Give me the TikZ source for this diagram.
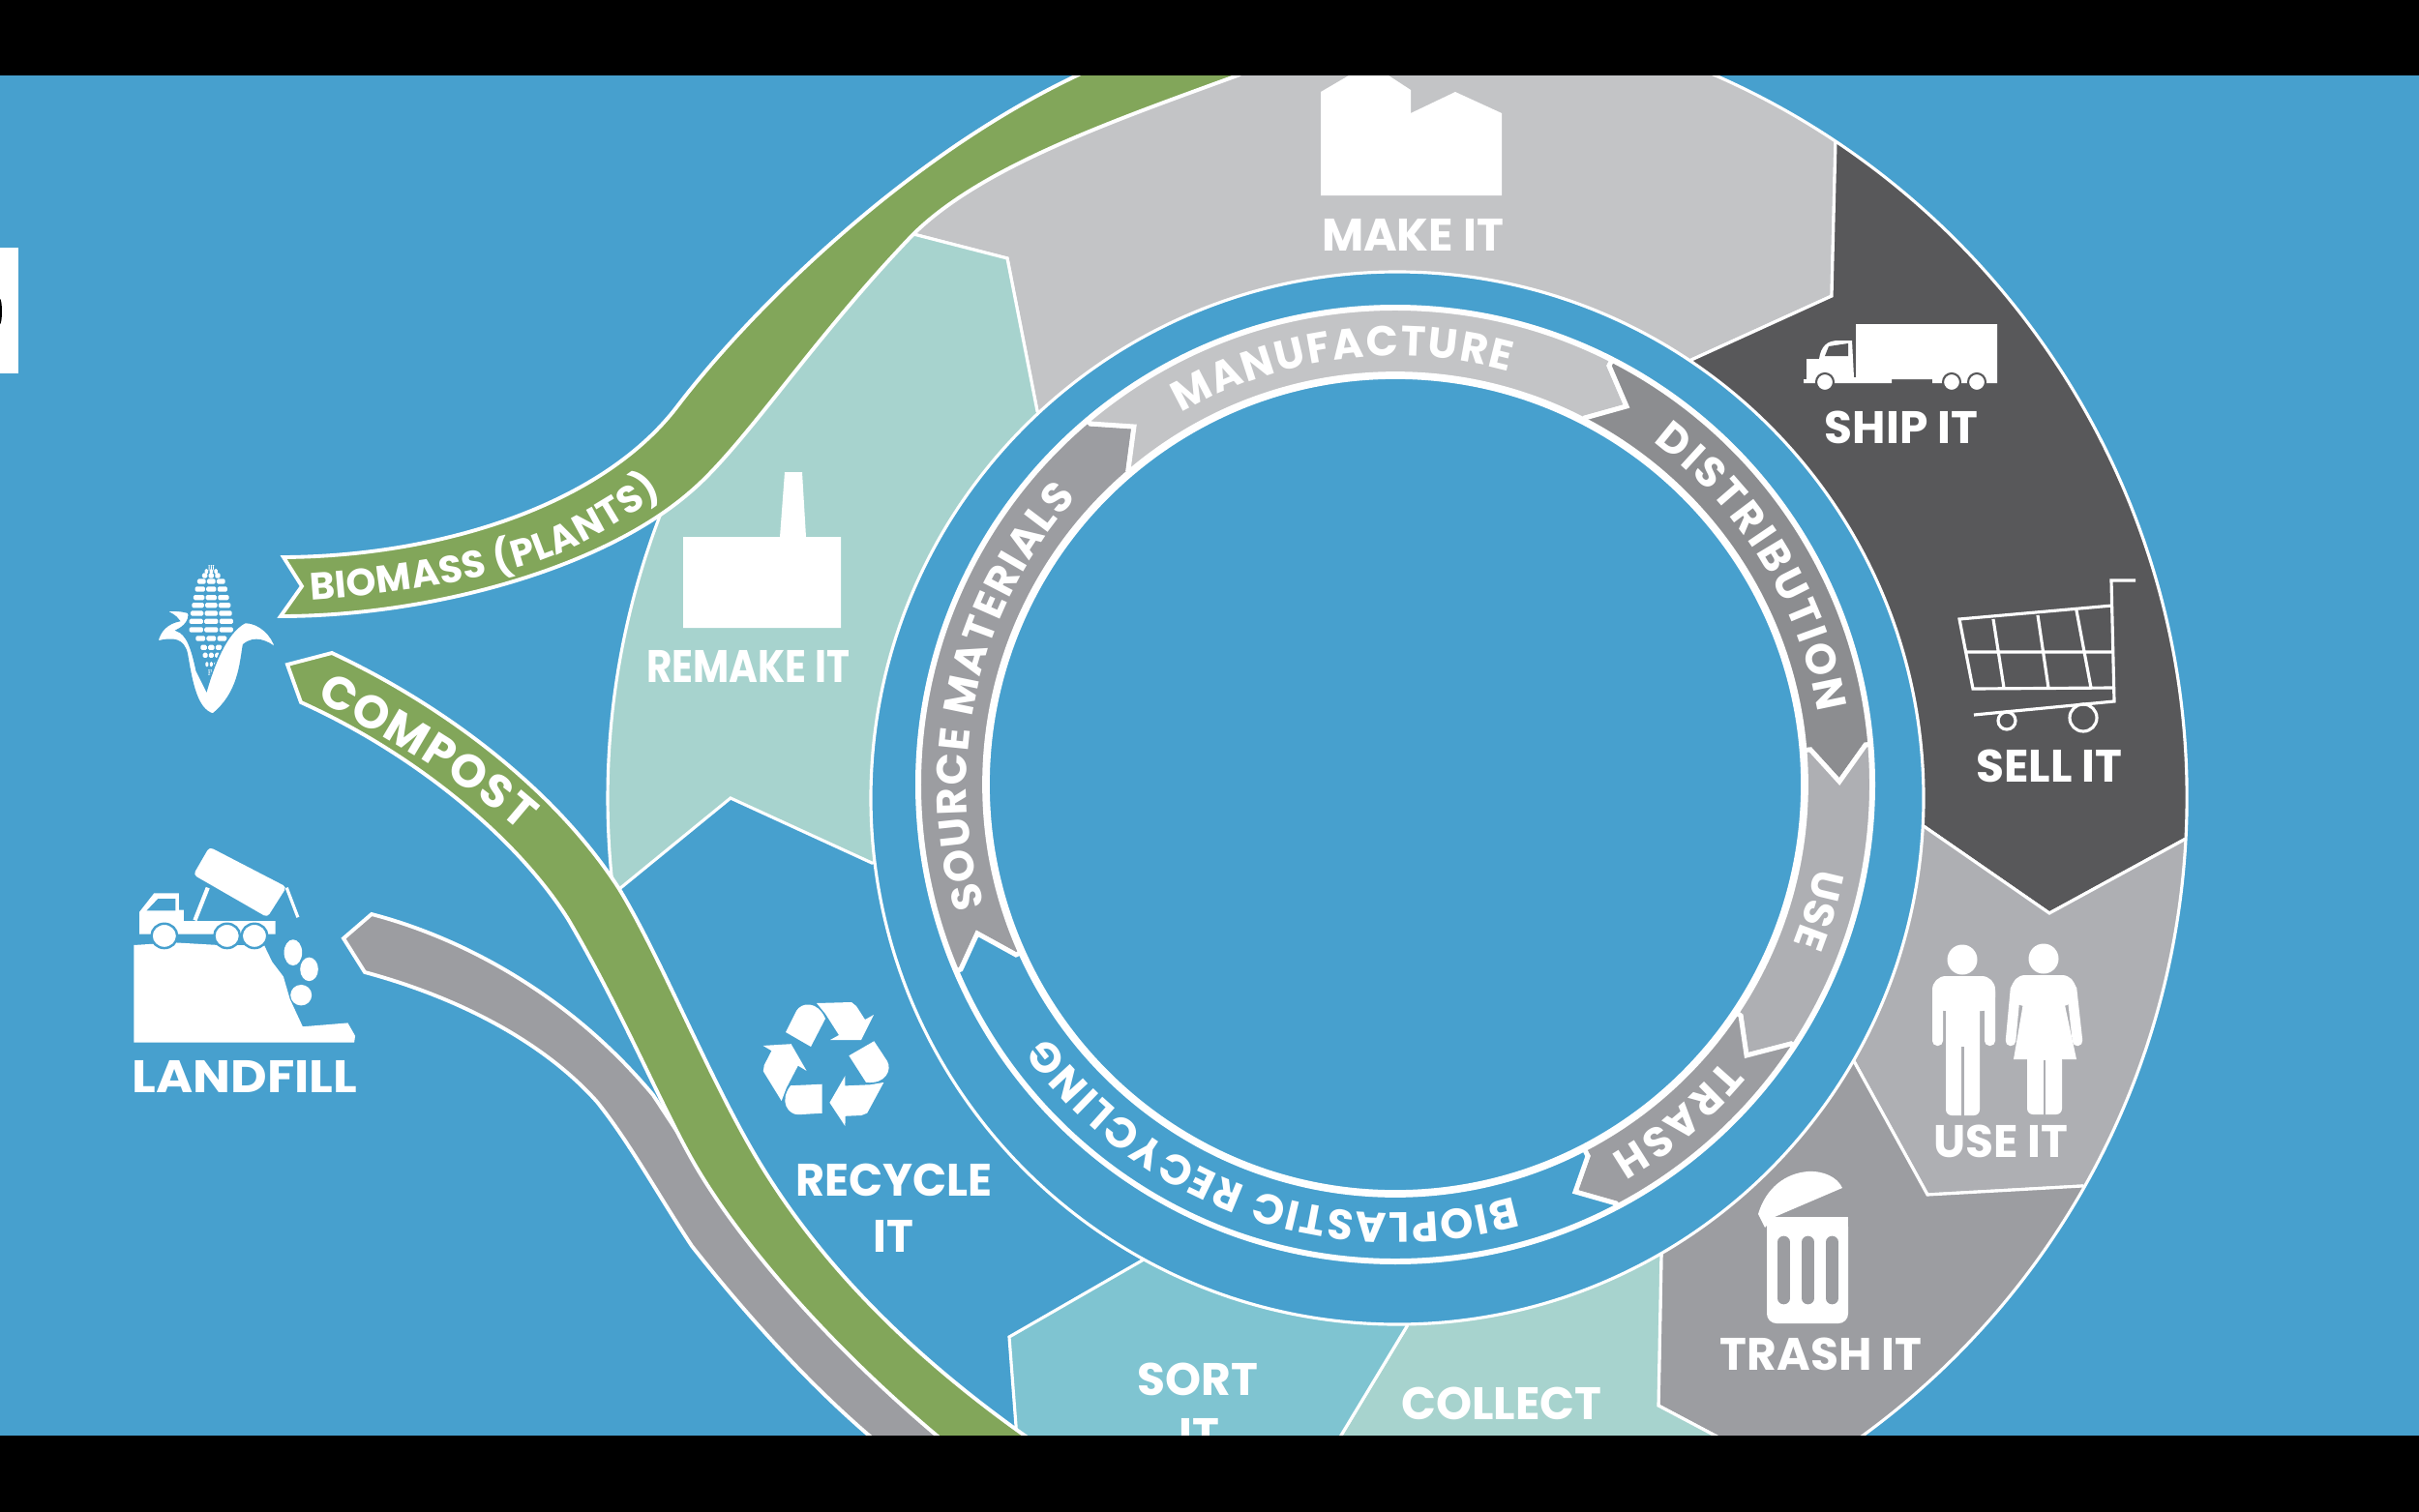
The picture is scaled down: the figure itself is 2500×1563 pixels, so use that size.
\documentclass[tikz,border=0pt]{standalone}
\usepackage{fontspec}
\setmainfont{Poppins}
\usetikzlibrary{calc,decorations.text}
\definecolor{bgblue}{HTML}{47A0CE}
\definecolor{makegrey}{HTML}{C3C4C6}
\definecolor{shipdark}{HTML}{58585A}
\definecolor{usegrey}{HTML}{AEAFB3}
\definecolor{trashgrey}{HTML}{9C9DA1}
\definecolor{remakemint}{HTML}{A7D3CE}
\definecolor{sortcyan}{HTML}{7FC4D1}
\definecolor{biogreen}{HTML}{82A65A}
\definecolor{distgrey}{HTML}{8C8D90}
\tikzset{
  seg/.style={draw=white,line width=.9pt,line join=miter},
  ring part/.style={draw=white,line width=1.4pt,line join=miter},
  flow band/.style={draw=white,line width=1.1pt,line join=miter},
  step label/.style={text=white,font=\bfseries\fontsize{13.4}{16}\selectfont,inner sep=0pt,align=center},
  icon/.style={fill=white,draw=none}
}
\newcommand{\ringfont}{\color{white}\bfseries\fontsize{12.4}{13}\selectfont}
\newcommand{\bandfont}{\color{white}\bfseries\fontsize{11.2}{12}\selectfont}
\newcommand{\compfont}{\color{white}\bfseries\fontsize{13.6}{14}\selectfont}
\newcommand{\RingPart}[5]{\filldraw[ring part,fill=#1] (#2o)--(#2t)--(#2i)--(rc)--(#3i)--(#3t)--(#3o)
  --($(rc)+(#5:700)$)--($(rc)+({(#4+#5)/2}:1000)$)--($(rc)+(#4:700)$)--cycle;}
\newcommand{\RingLabel}[3]{\path[decorate,decoration={text along path,text align={fit to path},text={|\ringfont|#3}}]
  (rc)+(#1:443) arc[start angle=#1,end angle=#2,radius=443];}

\begin{document}
\begin{tikzpicture}[x=0.1mm,y=-0.1mm,line cap=butt]
  \useasboundingbox (0,0) rectangle (2500,1563);
  \fill[bgblue] (0,0) rectangle (2500,1563);
  \coordinate (oc) at (1444,825);
  \coordinate (rc) at (1442,811);

  \fill[white] (0,256) rectangle (19,386);
  \fill[black] (0,322) ellipse (2 and 13);

  % landfill band sits under the compost band
  \filldraw[flow band,fill=trashgrey] (384,945) .. controls (480,970) and (590,1030) .. (675,1132) -- (700,1170) -- (1000,1500) -- (930,1510)
    .. controls (840,1440) and (760,1345) .. (715,1288) .. controls (680,1235) and (650,1180) .. (617,1139)
    .. controls (560,1075) and (470,1030) .. (377,1005) -- (355,970) -- cycle;

  % outer steps
  \begin{scope}
    \clip (oc) circle (816);
    \filldraw[seg,fill=makegrey] (oc)--(1072,425)--(1041,267)--(944,242)--($(oc)+(229.4:1100)$)--($(oc)+(270:1200)$)--($(oc)+(303.7:1100)$)--(1897,145)--(1893,306)--(1748,372)--cycle;
    \filldraw[seg,fill=shipdark] (oc)--(1748,372)--(1893,306)--(1897,145)--($(oc)+(303.7:1100)$)--($(oc)+(333:1200)$)--($(oc)+(3:1100)$)--(2259,867)--(2118,944)--(1988,854)--cycle;
    \filldraw[seg,fill=usegrey] (oc)--(1988,854)--(2118,944)--(2259,867)--($(oc)+(3:1100)$)--($(oc)+(16:1200)$)--($(oc)+(29.5:1100)$)--(2152,1226)--(1992,1235)--(1916,1097)--cycle;
    \filldraw[seg,fill=trashgrey] (oc)--(1916,1097)--(1992,1235)--(2152,1226)--($(oc)+(29.5:1100)$)--($(oc)+(50:1200)$)--(1850,1525)--(1714,1453)--(1717,1294)--cycle;
    \filldraw[seg,fill=remakemint] (oc)--(1717,1294)--(1714,1453)--(1850,1525)--(1600,1700)--(1340,1560)--(1454,1371)--cycle;
    \filldraw[seg,fill=sortcyan] (oc)--(1454,1371)--(1340,1560)--(1056,1560)--(1050,1474)--(1043,1382)--(1182,1302)--cycle;
    \filldraw[seg,fill=remakemint] (oc)--(901,892)--(755,825)--(640,919)--($(oc)+(173.3:1100)$)--($(oc)+(200:1200)$)--($(oc)+(229.4:1100)$)--(944,242)--(1041,267)--(1072,425)--cycle;
  \end{scope}
  \draw[seg] (oc)+(280:816) arc[start angle=280,end angle=430,radius=816];
  \draw[seg] (oc)+(173.3:816) arc[start angle=173.3,end angle=206.6,radius=816];

  % blue gap
  \filldraw[seg,fill=bgblue] (oc) circle (544);

  % inner ring
  \coordinate (so) at (993,1002); \coordinate (st) at (1010,965); \coordinate (si) at (1050,987);
  \coordinate (mo) at (1127,438); \coordinate (mt) at (1172,441); \coordinate (mi) at (1166,486);
  \coordinate (do) at (1663,378); \coordinate (dt) at (1681,420); \coordinate (di) at (1638,432);
  \coordinate (uo) at (1928,770); \coordinate (ut) at (1901,808); \coordinate (ui) at (1871,775);
  \coordinate (to) at (1851,1079); \coordinate (tt) at (1805,1091); \coordinate (ti) at (1799,1050);
  \coordinate (bo) at (1670,1244); \coordinate (bt) at (1628,1232); \coordinate (bi) at (1641,1195);
  \begin{scope}
    \clip (rc) circle (493);
    \RingPart{trashgrey}{s}{m}{157}{229.8}
    \RingPart{makegrey}{m}{d}{229.8}{297}
    \RingPart{distgrey}{d}{u}{297}{355.2}
    \RingPart{usegrey}{u}{t}{355.2}{393.2}
    \RingPart{trashgrey}{t}{b}{393.2}{422.2}
    \RingPart{bgblue}{b}{s}{422.2}{517}
  \end{scope}
  \draw[white,line width=1.7pt] (rc) circle (493);
  \filldraw[draw=white,line width=2.2pt,fill=bgblue] (rc) circle (423);
  \RingLabel{240}{285.4}{MANUFACTURE}
  \RingLabel{307}{350.4}{DISTRIBUTION}
  \RingLabel{11.3}{21.7}{USE}
  \RingLabel{40}{59.8}{TRASH}
  \RingLabel{74}{144}{BIOPLASTIC RECYCLING}
  \RingLabel{163.5}{222}{SOURCE MATERIALS}

  % green bands
  \filldraw[flow band,fill=biogreen] (293,576) .. controls (450,575) and (620,525) .. (700,420) .. controls (780,315) and (940,160) .. (1113,78) -- (1180,45) -- (1340,45) -- (1279,78)
    .. controls (1150,125) and (1015,172) .. (944,242) .. controls (840,350) and (770,460) .. (714,508) .. controls (620,590) and (440,637) .. (290,637)
    -- (312,606) -- cycle;
  \filldraw[flow band,fill=biogreen] (343,675) .. controls (450,725) and (570,810) .. (640,919) .. controls (680,985) and (725,1095) .. (770,1176) .. controls (830,1285) and (930,1400) .. (1100,1512)
    -- (1010,1520) -- (1000,1510) .. controls (880,1415) and (765,1290) .. (712,1193) .. controls (680,1135) and (640,1040) .. (587,950) .. controls (530,860) and (420,775) .. (311,726)
    -- (297,687) -- cycle;
  \path[decorate,decoration={text along path,text align={fit to path},text={|\bandfont|BIOMASS (PLANTS)}}]
    (321,620) .. controls (400,615) and (500,600) .. (561,579) .. controls (600,565) and (650,535) .. (684,510);
  \path[decorate,decoration={text along path,text align={fit to path},text={|\compfont|COMPOST}}]
    (327,722) .. controls (400,765) and (470,800) .. (538,860);

  % step labels
  \node[step label] (makeit) at (1460,243) {MAKE IT};
  \node[step label] (shipit) at (1965,442) {SHIP IT};
  \node[step label] (sellit) at (2118,792) {SELL IT};
  \node[step label] (useit) at (2068,1180) {USE IT};
  \node[step label] (trashit) at (1882,1400) {TRASH IT};
  \node[step label] (collect) at (1552,1451) {COLLECT};
  \node[step label] (sort) at (1238,1426) {SORT};
  \node[step label] (sortb) at (1239,1483) {IT};
  \node[step label] (recycle) at (924,1220) {\scalebox{.98}[1]{RECYCLE}};
  \node[step label] (recycleb) at (923,1278) {IT};
  \node[step label] (remake) at (773,689) {\scalebox{.86}[1]{REMAKE IT}};
  \node[step label] (landfill) at (253,1113) {\scalebox{1.1}[1]{LANDFILL}};

  % factory icons
  \fill[icon] (1365,95)--(1394,78)--(1435,78)--(1458,93)--(1458,117)--(1504,95)--(1552,117)--(1552,202)--(1365,202)--cycle;
  \fill[icon] (706,555)--(806,555)--(811,488)--(829,488)--(833,555)--(869,555)--(869,649)--(706,649)--cycle;

  % truck
  \fill[icon] (1918,335) rectangle (2064,392) (1997,390) rectangle (2064,396);
  \fill[icon] (1864,392)--(1867,392)--(1867,371)--(1880,371) .. controls (1882,358) and (1888,352) .. (1900,352) -- (1914,352)--(1916,390)--(1955,390)--(1955,396)--(1864,396)--cycle;
  \fill[shipdark] (1886,368)--(1890,358)--(1910,355)--(1910,368)--cycle;
  \foreach \wx in {1886,2017,2043} {\filldraw[draw=shipdark,fill=white,line width=.6pt] (\wx,395) circle (9);}

  % cart
  \draw[white,line width=.9pt] (2207,600)--(2182,600)--(2185,725)--(2040,739)
    (2183,626)--(2025,640)--(2039,712)--(2185,711) (2033,674)--(2183,674)
    (2060,640)--(2071,711) (2106,636)--(2117,711) (2146,631)--(2161,711);
  \draw[white,line width=.9pt] (2074,745) circle (9) (2153,742) circle (14);

  % people
  \fill[icon] (2028,992) circle (15.5) (2112,991) circle (15.5);
  \fill[icon,rounded corners=1.4mm] (1997,1009) rectangle (2062,1045);
  \fill[icon,rounded corners=.5mm] (1997,1020) rectangle (2008,1081) (2051,1020) rectangle (2062,1081);
  \fill[icon,rounded corners=.6mm] (2011,1030) rectangle (2046,1153);
  \draw[usegrey,line width=.7pt] (2028.5,1082)--(2028.5,1155);
  \fill[icon,rounded corners=1.4mm] (2079,1008) rectangle (2145,1040);
  \draw[white,line width=3pt,line cap=round] (2083,1022)--(2078,1076) (2141,1022)--(2147,1076);
  \fill[icon] (2093,1025)--(2131,1025)--(2146,1095)--(2081,1095)--cycle;
  \fill[icon,rounded corners=.6mm] (2095,1090) rectangle (2131,1152);
  \draw[usegrey,line width=.7pt] (2113,1096)--(2113,1155);

  % trash can
  \fill[icon,rounded corners=1mm] (1826,1258) rectangle (1910,1368);
  \fill[icon] (1826,1258) rectangle (1910,1290);
  \foreach \sx in {1843.5,1868.5,1893.5} {\draw[trashgrey,line width=3.6pt,line cap=round] (\sx,1284)--(\sx,1342);}
  \fill[icon] (1817,1255) .. controls (1825,1228) and (1845,1213) .. (1868,1211) .. controls (1885,1210) and (1899,1217) .. (1904,1228) -- (1834,1258) -- (1824,1269) -- cycle;

  % recycling arrows
  \foreach \ra in {0,120,240} {
    \begin{scope}[rotate around={\ra:(855,1098)}]
      \fill[icon] (812,1067)--(823,1045) .. controls (828,1036) and (845,1034) .. (853,1053) -- (838,1082) -- cycle;
      \fill[icon] (844,1037)--(880,1036)--(885,1040)--(894,1054)--(903,1049)--(890,1075)--(858,1075)--(867,1070)--(853,1048)--cycle;
    \end{scope}
  }

  % corn
  \begin{scope}[shift={(140,570)},scale=.3333]
    \foreach \ry/\rw in {50/10,62/22,75/30,93/45,117/52,143/57,167/62,192/66,217/70,243/70,270/50,298/35,322/28,350/20,375/10} {
      \foreach \cc in {-1,0,1} {
        \fill[white,rounded corners=.15mm] ({235+\cc*2*\rw/3-\rw/3+2},\ry-8) rectangle ({235+\cc*2*\rw/3+\rw/3-2},\ry+8);
      }
    }
    \filldraw[draw=bgblue,line width=.5pt,fill=white] (68,280) .. controls (75,245) and (100,222) .. (135,215) .. controls (125,200) and (110,192) .. (92,185)
      .. controls (120,180) and (150,185) .. (165,190) .. controls (170,215) and (150,235) .. (128,245) .. controls (160,255) and (175,300) .. (190,370) -- (220,430)
      .. controls (240,360) and (280,250) .. (340,220) .. controls (385,220) and (425,260) .. (435,300) .. controls (410,280) and (370,260) .. (335,290)
      .. controls (325,350) and (320,440) .. (240,505) .. controls (190,490) and (175,410) .. (160,320) .. controls (150,270) and (115,268) .. (68,280) -- cycle;
  \end{scope}

  % landfill icon
  \begin{scope}[shift={(100,550)},x=0.00333cm,y=-0.003827cm]
    \fill[icon] (115,1115)--(240,1108)--(380,1115)--(520,1115)--(545,1160)--(580,1200)--(600,1260)--(640,1335)--(780,1325)--(803,1360)--(800,1378)--(115,1378)--cycle;
    \fill[icon] (133,1085)--(133,1025)--(178,975)--(255,975)--(255,1020)--(270,1020)--(270,1050)--(555,1050)--(555,1085)--cycle;
    \fill[bgblue] (155,1022)--(190,990)--(245,990)--(245,1022)--cycle;
    \fill[icon,rounded corners=.4mm] (350,850)--(590,958)--(530,1040)--(300,925)--cycle;
    \draw[white,line width=.9pt] (590,960)--(625,1040);
    \draw[white,line width=1.2pt] (345,960)--(305,1048);
    \foreach \wx in {210,405,490} {\filldraw[draw=bgblue,fill=white,line width=.7pt] (\wx,1090) ellipse (40 and 33);}
    \fill[icon] (610,1135) ellipse (28 and 35) (660,1180) ellipse (28 and 32) (635,1250) ellipse (33 and 28);
  \end{scope}

  % letterbox bars
  \fill[black] (0,0) rectangle (2500,78);
  \fill[black] (0,1484) rectangle (2500,1563);
\end{tikzpicture}
\end{document}
